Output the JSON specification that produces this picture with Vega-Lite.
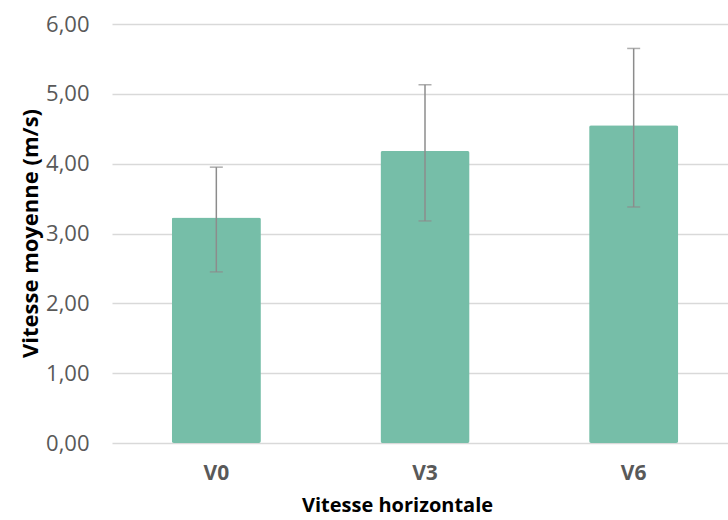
{
  "$schema": "https://vega.github.io/schema/vega-lite/v6.json",
  "autosize": {"type": "none"},
  "padding": {"left": 112, "top": 24, "right": 0, "bottom": 77},
  "width": 626,
  "height": 419,
  "background": "white",
  "config": {
    "view": {"stroke": null},
    "font": "Open Sans"
  },
  "data": {
    "values": [
      {"cat": "V0", "mean": 3.23, "lo": 2.45, "hi": 3.95},
      {"cat": "V3", "mean": 4.18, "lo": 3.18, "hi": 5.13},
      {"cat": "V6", "mean": 4.55, "lo": 3.38, "hi": 5.65}
    ]
  },
  "encoding": {
    "x": {
      "field": "cat",
      "type": "nominal",
      "sort": null,
      "scale": {"paddingInner": 0.573, "paddingOuter": 0.2865},
      "axis": {
        "title": "Vitesse horizontale",
        "titleFont": "Open Sans",
        "titleFontSize": 20,
        "titleFontWeight": "bold",
        "titleColor": "#000000",
        "titleX": 285,
        "titleY": 68,
        "titleBaseline": "alphabetic",
        "labelAngle": 0,
        "labelFont": "Open Sans",
        "labelFontSize": 21,
        "labelFontWeight": "bold",
        "labelColor": "#595959",
        "labelPadding": 19,
        "domain": false,
        "ticks": false,
        "grid": false
      }
    }
  },
  "layer": [
    {
      "mark": {"type": "bar", "color": "#76BEA8", "cornerRadius": 2},
      "encoding": {
        "y": {
          "field": "mean",
          "type": "quantitative",
          "scale": {"domain": [0, 6], "nice": false},
          "axis": {
            "title": "Vitesse moyenne (m/s)",
            "titleFont": "Open Sans",
            "titleFontSize": 22,
            "titleFontWeight": "bold",
            "titleColor": "#000000",
            "titleX": -82,
            "titleY": 209,
            "titleAnchor": "middle",
            "titleBaseline": "middle",
            "values": [0, 1, 2, 3, 4, 5, 6],
            "labelExpr": "replace(format(datum.value, '.2f'), '.', ',')",
            "labelFont": "Open Sans",
            "labelFontSize": 22,
            "labelColor": "#595959",
            "labelPadding": 23,
            "domain": false,
            "ticks": false,
            "grid": true,
            "gridColor": "#d9d9d9",
            "gridWidth": 1.5
          }
        }
      }
    },
    {
      "mark": {"type": "rule", "color": "#8c8c8c", "strokeWidth": 1.5},
      "encoding": {
        "y": {"field": "lo", "type": "quantitative"},
        "y2": {"field": "hi"}
      }
    },
    {
      "mark": {"type": "tick", "color": "#8c8c8c", "thickness": 1.5, "size": 13, "orient": "horizontal"},
      "encoding": {"y": {"field": "lo", "type": "quantitative"}}
    },
    {
      "mark": {"type": "tick", "color": "#8c8c8c", "thickness": 1.5, "size": 13, "orient": "horizontal"},
      "encoding": {"y": {"field": "hi", "type": "quantitative"}}
    }
  ]
}
